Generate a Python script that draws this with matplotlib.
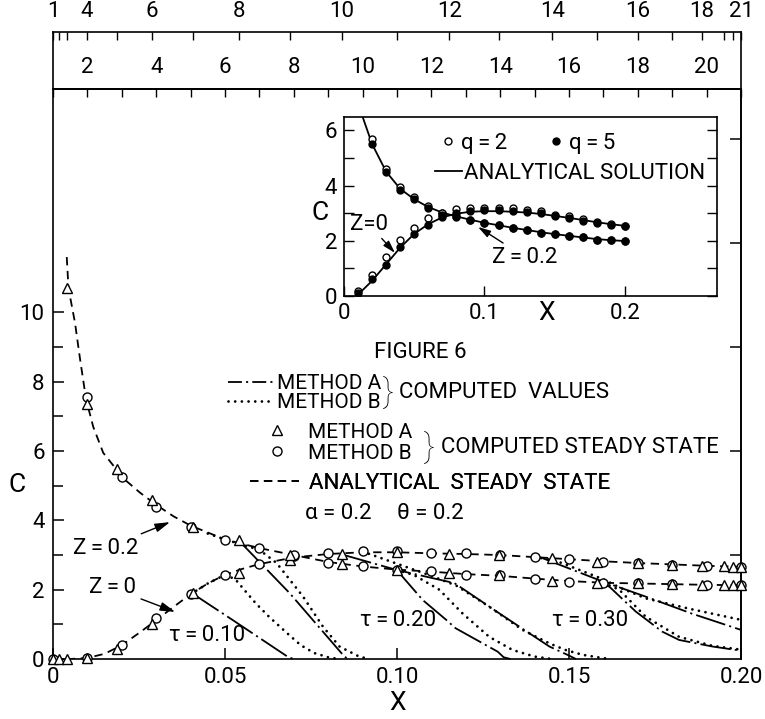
import numpy as np
import matplotlib.pyplot as plt
from matplotlib.lines import Line2D

plt.rcParams['font.family'] = ['Roboto', 'DejaVu Sans']
plt.rcParams['font.weight'] = 'normal'
plt.rcParams['font.size'] = 16
plt.rcParams['lines.scale_dashes'] = False
plt.rcParams['axes.linewidth'] = 1.2

# grid nodes: method A (non-uniform, upper scale), method B (uniform, lower scale)
node_no = list(range(1, 22))
x_nodes_a = [0.0, 0.0016, 0.0040, 0.0099, 0.0186, 0.0288, 0.0407, 0.0540, 0.0688, 0.0839, 0.0999,
             0.1152, 0.1297, 0.1451, 0.1582, 0.1701, 0.1800, 0.1887, 0.1951, 0.1977, 0.2000]
x_nodes_b = [0.00, 0.01, 0.02, 0.03, 0.04, 0.05, 0.06, 0.07, 0.08, 0.09, 0.10,
             0.11, 0.12, 0.13, 0.14, 0.15, 0.16, 0.17, 0.18, 0.19, 0.20]
labels_a = ['1', '', '', '4', '', '6', '', '8', '', '10', '', '12', '', '14', '', '16', '', '18', '', '', '21']

# analytical steady state
ss_x_z0 = [0.0, 0.005, 0.01, 0.015, 0.02, 0.025, 0.03, 0.035, 0.04, 0.045, 0.05, 0.055, 0.06, 0.07,
           0.08, 0.09, 0.10, 0.11, 0.12, 0.13, 0.14, 0.15, 0.16, 0.17, 0.18, 0.19, 0.20]
ss_c_z0 = [0.0, 0.0, 0.03, 0.15, 0.40, 0.75, 1.12, 1.50, 1.87, 2.18, 2.43, 2.60, 2.74, 2.93,
           3.03, 3.08, 3.08, 3.05, 3.03, 3.00, 2.94, 2.88, 2.82, 2.77, 2.73, 2.69, 2.66]
ss_x_z02 = [0.004, 0.0045, 0.0064, 0.0078, 0.0096, 0.0117, 0.0146, 0.0186, 0.02, 0.0253, 0.03, 0.035,
            0.04, 0.05, 0.06, 0.07, 0.08, 0.09, 0.10, 0.11, 0.12, 0.13, 0.14, 0.15, 0.16, 0.17,
            0.18, 0.19, 0.20]
ss_c_z02 = [11.6, 10.7, 9.7, 8.7, 7.5, 6.7, 5.95, 5.45, 5.25, 4.8, 4.45, 4.12,
            3.85, 3.45, 3.2, 3.0, 2.8, 2.67, 2.58, 2.52, 2.45, 2.4, 2.32, 2.25, 2.2, 2.18,
            2.16, 2.14, 2.13]

# computed steady state, method A (triangles) and method B (circles)
tri_c_z0 = [0.0, 0.0, 0.0, 0.03, 0.3, 1.0, 1.9, 2.48, 2.86, 3.02, 3.10,
            3.02, 3.0, 2.91, 2.81, 2.76, 2.72, 2.69, 2.67, 2.66, 2.65]
tri_c_z02 = [None, None, 10.7, 7.35, 5.48, 4.6, 3.82, 3.42, 3.0, 2.73, 2.57,
             2.49, 2.43, 2.26, 2.2, 2.19, 2.17, 2.14, 2.14, 2.14, 2.14]
circ_c_z0 = [0.0, 0.03, 0.40, 1.18, 1.88, 2.43, 2.74, 2.97, 3.05, 3.13, 3.12,
             3.05, 3.05, 3.0, 2.93, 2.88, 2.81, 2.76, 2.72, 2.69, 2.66]
circ_c_z02 = [None, 7.55, 5.25, 4.40, 3.82, 3.44, 3.2, 3.0, 2.77, 2.67, 2.57,
              2.55, 2.43, 2.43, 2.3, 2.23, 2.2, 2.19, 2.17, 2.14, 2.14]

# computed transient values (x, C): method A and method B, for tau = 0.10, 0.20, 0.30
a_t10_z0 = [(0.0407, 1.88), (0.0523, 1.12), (0.0683, 0.06), (0.070, 0.0)]
b_t10_z0 = [(0.04, 1.87), (0.045, 2.18), (0.05, 2.43), (0.053, 2.3), (0.056, 1.95), (0.059, 1.6),
            (0.063, 1.2), (0.068, 0.75), (0.072, 0.4), (0.076, 0.17), (0.08, 0.05), (0.083, 0.0)]
a_t10_z02 = [(0.054, 3.42), (0.0688, 1.9), (0.0848, 0.06), (0.086, 0.0)]
b_t10_z02 = [(0.045, 3.62), (0.05, 3.45), (0.055, 3.3), (0.06, 3.15), (0.065, 2.77), (0.0727, 1.8),
             (0.0785, 0.93), (0.0833, 0.36), (0.089, 0.07), (0.092, 0.0)]
a_t20_z0 = [(0.0839, 3.02), (0.0999, 2.57), (0.1167, 2.19), (0.13, 1.3), (0.1443, 0.36),
            (0.15, 0.1), (0.152, 0.0)]
b_t20_z0 = [(0.09, 3.1), (0.10, 2.75), (0.11, 2.4), (0.1172, 2.12), (0.1268, 1.51), (0.1365, 0.84),
            (0.1443, 0.45), (0.149, 0.26), (0.154, 0.12), (0.159, 0.04), (0.162, 0.0)]
a_t20_z02 = [(0.0999, 2.57), (0.1075, 1.7), (0.1143, 1.13), (0.117, 0.89), (0.1293, 0.21),
             (0.131, 0.05), (0.133, 0.0)]
b_t20_z02 = [(0.0999, 2.57), (0.105, 2.42), (0.1123, 2.0), (0.119, 1.32), (0.1268, 0.64),
             (0.1336, 0.26), (0.14, 0.07), (0.145, 0.0)]
a_t30_z0 = [(0.1423, 2.91), (0.1597, 2.24), (0.1723, 1.8), (0.186, 1.3), (0.2, 0.84)]
b_t30_z0 = [(0.14, 2.94), (0.1458, 2.85), (0.16, 2.3), (0.165, 2.05), (0.1723, 1.75), (0.185, 1.45),
            (0.2, 1.13)]
a_t30_z02 = [(0.1582, 2.2), (0.1617, 2.09), (0.1694, 1.37), (0.1771, 0.79), (0.182, 0.55),
             (0.1917, 0.36), (0.2, 0.24)]
b_t30_z02 = [(0.16, 2.2), (0.1646, 2.0), (0.1723, 1.22), (0.182, 0.64), (0.1917, 0.38), (0.2, 0.27)]

# inset: q = 2 (open) and q = 5 (filled), analytical solution
ins_x = [0.01, 0.02, 0.03, 0.04, 0.05, 0.06, 0.07, 0.08, 0.09, 0.10,
         0.11, 0.12, 0.13, 0.14, 0.15, 0.16, 0.17, 0.18, 0.19, 0.20]
ins_line_z0 = [0.05, 0.55, 1.15, 1.75, 2.25, 2.6, 2.85, 2.98, 3.05, 3.07,
               3.07, 3.05, 3.02, 2.97, 2.9, 2.83, 2.75, 2.67, 2.6, 2.54]
ins_line_x_z02 = [0.0135, 0.02, 0.03, 0.04, 0.05, 0.06, 0.07, 0.08, 0.09, 0.10,
                  0.11, 0.12, 0.13, 0.14, 0.15, 0.16, 0.17, 0.18, 0.19, 0.20]
ins_line_z02 = [6.45, 5.5, 4.5, 3.88, 3.5, 3.22, 3.02, 2.88, 2.76, 2.65,
                2.56, 2.47, 2.39, 2.31, 2.24, 2.18, 2.12, 2.06, 2.02, 1.99]
q2_z0 = [0.18, 0.75, 1.42, 2.03, 2.45, 2.82, 3.0, 3.14, 3.18, 3.2,
         3.2, 3.2, 3.12, 3.06, 2.95, 2.88, 2.78, 2.68, 2.6, 2.54]
q5_z0 = [0.1, 0.6, 1.12, 1.79, 2.25, 2.57, 2.85, 3.0, 3.08, 3.1,
         3.1, 3.08, 3.05, 3.0, 2.88, 2.82, 2.72, 2.63, 2.57, 2.54]
q2_z02 = [None, 5.7, 4.6, 3.95, 3.6, 3.27, 3.0, 2.88, 2.75, 2.63,
          2.57, 2.45, 2.39, 2.29, 2.24, 2.17, 2.13, 2.03, 2.03, 2.0]
q5_z02 = [None, 5.5, 4.5, 3.85, 3.5, 3.2, 2.95, 2.85, 2.75, 2.63,
          2.57, 2.45, 2.39, 2.29, 2.24, 2.17, 2.13, 2.03, 2.03, 2.0]

dash_ss = (6, 4)
dash_a = (22, 3, 1.5, 3)
dash_b = (0.01, 4.8)


def pick(xs, cs):
    pts = [(x, c) for x, c in zip(xs, cs) if c is not None]
    return [p[0] for p in pts], [p[1] for p in pts]


fig = plt.figure(figsize=(7.65, 7.19), dpi=100)
band = fig.add_axes([53 / 765, 630 / 719, 688 / 765, 57 / 719])
band.patch.set_visible(False)
ax = fig.add_axes([53 / 765, 60 / 719, 688 / 765, 570 / 719])
ax.patch.set_visible(False)

# steady state curves
ax.plot(ss_x_z0, ss_c_z0, color='k', lw=1.3, dashes=dash_ss, zorder=2)
ax.plot(ss_x_z02, ss_c_z02, color='k', lw=1.3, dashes=dash_ss, zorder=2)

# transient curves
for pts in [a_t10_z0, a_t10_z02, a_t20_z0, a_t20_z02, a_t30_z0, a_t30_z02]:
    ax.plot([p[0] for p in pts], [p[1] for p in pts], color='k', lw=1.3, dashes=dash_a,
            zorder=3, clip_on=False)
for pts in [b_t10_z0, b_t10_z02, b_t20_z0, b_t20_z02, b_t30_z0, b_t30_z02]:
    ax.plot([p[0] for p in pts], [p[1] for p in pts], color='k', lw=2.0, dashes=dash_b,
            dash_capstyle='round', zorder=3, clip_on=False)

# computed steady state markers
for cs in [tri_c_z0, tri_c_z02]:
    xs, ys = pick(x_nodes_a, cs)
    ax.plot(xs, ys, ls='none', marker='^', ms=6.5, mfc='white', mec='k', mew=1.0,
            zorder=5, clip_on=False)
for cs in [circ_c_z0, circ_c_z02]:
    xs, ys = pick(x_nodes_b, cs)
    ax.plot(xs, ys, ls='none', marker='o', ms=6.5, mfc='white', mec='k', mew=1.0,
            zorder=4, clip_on=False)

ax.set_xlim(0, 0.2)
ax.set_ylim(0, 16.45)
ax.set_xticks([0, 0.05, 0.10, 0.15, 0.20])
ax.set_xticklabels(['0', '0.05', '0.10', '0.15', '0.20'])
ax.set_yticks([0, 2, 4, 6, 8, 10])
ax.set_yticks([1, 3, 5, 7, 9], minor=True)
ax.tick_params(direction='in', length=8, width=1.1, pad=6, labelsize=16)
ax.tick_params(which='minor', direction='in', length=7, width=1.1)
ax.set_xlabel('X', fontsize=19, labelpad=2)
ax.set_ylabel('C', fontsize=19, rotation=0, va='center', ha='center')
ax.yaxis.set_label_coords(-0.052, 0.305)

sec_r = ax.secondary_yaxis('right')
sec_r.set_yticks([3, 6, 9, 12, 15])
sec_r.set_yticklabels([])
sec_r.tick_params(direction='in', length=8, width=1.1)

sec_top = ax.secondary_xaxis('top')
sec_top.set_xticks(x_nodes_b)
sec_top.set_xticklabels([str(n) if n % 2 == 0 else '' for n in node_no])
sec_top.tick_params(direction='in', length=6, width=1.0, pad=8, labelsize=16)

band.set_xlim(0, 0.2)
band.set_ylim(0, 1)
band.set_yticks([])
band.xaxis.set_ticks_position('top')
band.set_xticks(x_nodes_a)
band.set_xticklabels(labels_a)
band.tick_params(axis='x', direction='in', length=6, width=1.0, pad=7, labelsize=16)

# annotations
arrow_main = dict(arrowstyle='-|>,head_length=0.75,head_width=0.22', color='k', lw=1.0,
                  shrinkA=2, shrinkB=0, mutation_scale=12)
ax.annotate('Z\u2009=\u20090.2', xy=(0.034, 3.95), xytext=(0.0154, 3.2), ha='center', va='center',
            arrowprops=arrow_main)
ax.annotate('Z\u2009=\u20090', xy=(0.0355, 1.36), xytext=(0.0172, 2.05), ha='center', va='center',
            arrowprops=arrow_main)
ax.text(0.0448, 0.69, '\u03c4\u2009=\u20090.10', ha='center', va='center')
ax.text(0.1003, 1.12, '\u03c4\u2009=\u20090.20', ha='center', va='center')
ax.text(0.1561, 1.12, '\u03c4\u2009=\u20090.30', ha='center', va='center')

# legend block
h_a = Line2D([], [], color='k', lw=1.3, dashes=(10, 3, 1.5, 3))
h_b = Line2D([], [], color='k', lw=2.0, dashes=dash_b, dash_capstyle='round')
leg1 = ax.legend([h_a, h_b], ['METHOD A', 'METHOD B'], loc='upper left',
                 bbox_to_anchor=(0.2544, 0.50), frameon=False, handlelength=2.2,
                 handletextpad=0.15, labelspacing=0.0, borderpad=0, borderaxespad=0,
                 fontsize=15)
ax.add_artist(leg1)
h_t = Line2D([], [], ls='none', marker='^', ms=6.5, mfc='white', mec='k', mew=1.0)
h_o = Line2D([], [], ls='none', marker='o', ms=6.5, mfc='white', mec='k', mew=1.0)
leg2 = ax.legend([h_t, h_o], ['METHOD A', 'METHOD B'], loc='upper left',
                 bbox_to_anchor=(0.3105, 0.4147), frameon=False, handlelength=1.0,
                 handletextpad=1.0, labelspacing=0.1, borderpad=0, borderaxespad=0,
                 fontsize=15)
ax.add_artist(leg2)
h_s = Line2D([], [], color='k', lw=1.3, dashes=dash_ss)
leg3 = ax.legend([h_s], ['ANALYTICAL  STEADY  STATE'], loc='upper left',
                 bbox_to_anchor=(0.2863, 0.327), frameon=False, handlelength=2.2,
                 handletextpad=0.45, borderpad=0, borderaxespad=0)
ax.add_artist(leg3)
ax.text(0.0975, 7.69, '}', fontsize=24, fontweight='light', ha='center', va='center')
ax.text(0.1005, 7.69, 'COMPUTED  VALUES', ha='left', va='center')
ax.text(0.1095, 6.11, '}', fontsize=24, fontweight='light', ha='center', va='center')
ax.text(0.1128, 6.11, 'COMPUTED STEADY STATE', ha='left', va='center')
ax.text(0.0733, 4.21, '\u03b1 = 0.2', ha='left', va='center')
ax.text(0.1000, 4.21, '\u03b8 = 0.2', ha='left', va='center')
ax.text(0.1067, 8.85, 'FIGURE 6', ha='center', va='center')

# inset
ins = fig.add_axes([344 / 765, 423 / 719, 373 / 765, 179 / 719])
ins.plot(ins_x, ins_line_z0, color='k', lw=1.3, zorder=2)
ins.plot(ins_line_x_z02, ins_line_z02, color='k', lw=1.3, zorder=2)
for cs in [q2_z0, q2_z02]:
    xs, ys = pick(ins_x, cs)
    ins.plot(xs, ys, ls='none', marker='o', ms=5, mfc='white', mec='k', mew=1.0, zorder=3)
for cs in [q5_z0, q5_z02]:
    xs, ys = pick(ins_x, cs)
    ins.plot(xs, ys, ls='none', marker='o', ms=5, mfc='k', mec='k', zorder=4)
ins.set_xlim(0, 0.2655)
ins.set_ylim(0, 6.48)
ins.set_xticks([0, 0.1, 0.2])
ins.set_xticklabels(['0', '0.1', '0.2'])
ins.set_yticks([0, 2, 4, 6])
ins.set_yticks([1, 3, 5], minor=True)
ins.tick_params(direction='in', length=7, width=1.0, pad=5, labelsize=16, right=True)
ins.tick_params(which='minor', direction='in', length=7, width=1.0, right=True)
ins.set_xlabel('X', fontsize=19, va='center')
ins.xaxis.set_label_coords(0.543, -0.097)
ins.set_ylabel('C', fontsize=19, rotation=0, va='center', ha='center')
ins.yaxis.set_label_coords(-0.064, 0.464)

h_q2 = Line2D([], [], ls='none', marker='o', ms=5, mfc='white', mec='k', mew=1.0)
h_q5 = Line2D([], [], ls='none', marker='o', ms=5, mfc='k', mec='k')
leg4 = ins.legend([h_q2, h_q5], ['q\u2009=\u20092', 'q\u2009=\u20095'], loc='upper left',
                  bbox_to_anchor=(0.262, 0.913), frameon=False, ncol=2, handlelength=0.6,
                  handletextpad=0.28, columnspacing=1.9, borderpad=0, borderaxespad=0)
ins.add_artist(leg4)
h_an = Line2D([], [], color='k', lw=1.3)
ins.legend([h_an], ['ANALYTICAL SOLUTION'], loc='upper left', bbox_to_anchor=(0.244, 0.745),
           frameon=False, handlelength=1.2, handletextpad=0.1, borderpad=0, borderaxespad=0)
arrow_ins = dict(arrowstyle='-|>,head_length=0.75,head_width=0.22', color='k', lw=1.0,
                 shrinkA=1, shrinkB=0, mutation_scale=10)
ins.annotate('Z=0', xy=(0.0363, 1.56), xytext=(0.0175, 2.6), ha='center', va='center',
             arrowprops=arrow_ins)
ins.annotate('Z\u2009=\u20090.2', xy=(0.0954, 2.5), xytext=(0.1288, 1.41), ha='center', va='center',
             arrowprops=arrow_ins)

fig.savefig('out.png', dpi=100)
